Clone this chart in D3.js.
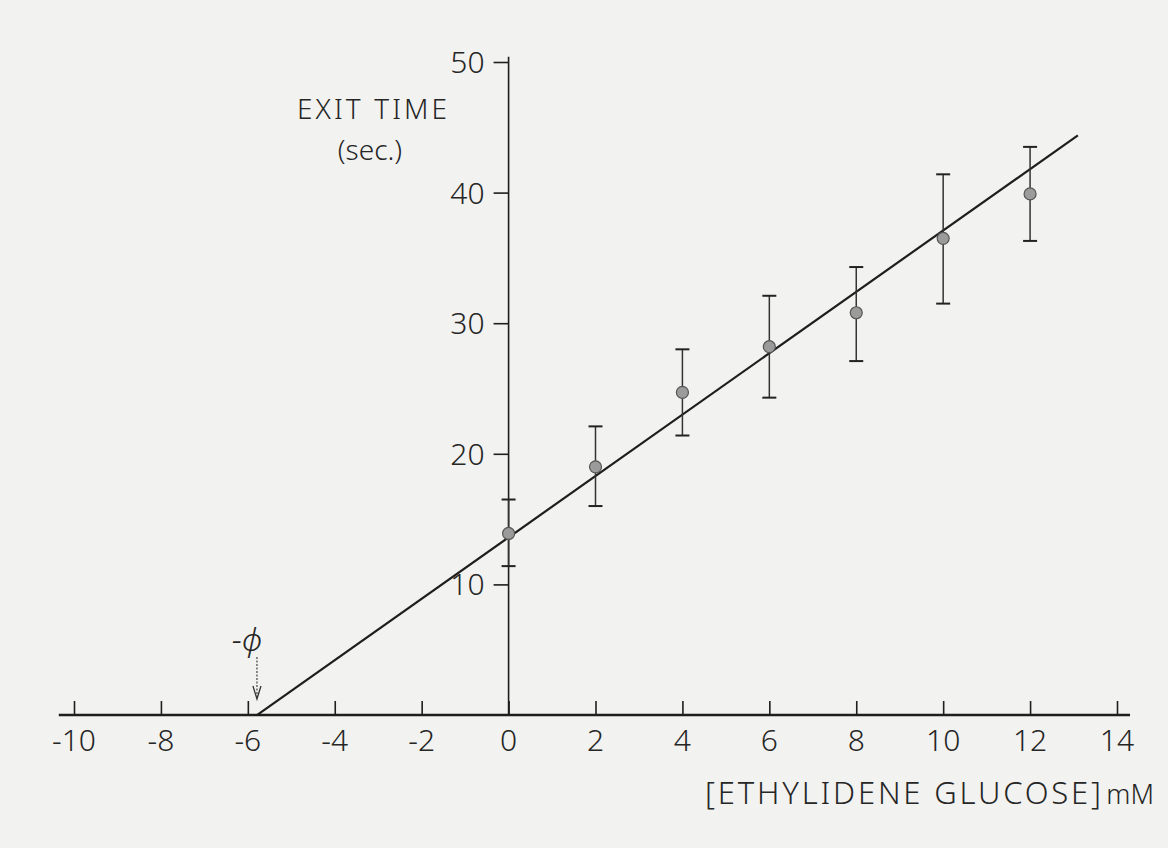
<!DOCTYPE html>
<html>
<head>
<meta charset="utf-8">
<script src="https://cdn.jsdelivr.net/npm/d3@7/dist/d3.min.js"></script>
<style>
  html, body { margin: 0; padding: 0; background: #f2f2f0; }
  svg { display: block; }
  text { font-family: "Noto Sans", "DejaVu Sans", sans-serif; font-weight: 300; fill: #262626; }
</style>
</head>
<body>
<svg id="chart" width="1168" height="848"></svg>
<script>
// Ethylidene glucose concentration (mM)
const concentration = [0, 2, 4, 6, 8, 10, 12];
// Mean exit time (sec.)
const exitTime = [13.9, 19.0, 24.7, 28.2, 30.8, 36.5, 39.9];
// Error bar limits (sec.)
const errLow  = [11.4, 16.0, 21.4, 24.3, 27.1, 31.5, 36.3];
const errHigh = [16.5, 22.1, 28.0, 32.1, 34.3, 41.4, 43.5];

// Axis ticks
const xTicks = [-10, -8, -6, -4, -2, 0, 2, 4, 6, 8, 10, 12, 14];
const yTicks = [10, 20, 30, 40, 50];

// Fitted straight line: exit time = slope * conc + intercept, drawn from -phi
const fitSlope = 2.35;
const fitIntercept = 13.6;
const fitRange = [-5.79, 13.1];
const phiValue = -5.79;

const svg = d3.select("#chart");

const x = d3.scaleLinear().domain([-10, 14]).range([74, 1117]);
const y = d3.scaleLinear().domain([0, 50]).range([715, 62]);

// paper tint
svg.append("rect").attr("width", 1168).attr("height", 848).attr("fill", "#f2f2f0");

const ink = "#1e1e1e";

// x axis: ticks point upward, line runs a little past the end ticks
const xAxis = svg.append("g").attr("transform", `translate(0,${y(0)})`)
  .call(d3.axisTop(x).tickValues(xTicks).tickSize(14).tickSizeOuter(0).tickFormat(() => ""));
xAxis.select(".domain").remove();
xAxis.selectAll(".tick line").attr("stroke", ink).attr("stroke-width", 1.6);
svg.append("line")
  .attr("x1", x(-10.35)).attr("x2", x(14.3))
  .attr("y1", y(0)).attr("y2", y(0))
  .attr("stroke", ink).attr("stroke-width", 2.4);

svg.append("g").selectAll("text").data(xTicks).join("text")
  .attr("x", d => x(d))
  .attr("y", y(0) + 36)
  .attr("text-anchor", "middle")
  .attr("font-size", 30)
  .text(d => d < 0 ? "-" + Math.abs(d) : d);

// y axis at zero concentration
const yAxis = svg.append("g").attr("transform", `translate(${x(0)},0)`)
  .call(d3.axisLeft(y).tickValues(yTicks).tickSize(15).tickSizeOuter(0).tickFormat(() => ""));
yAxis.select(".domain").remove();
yAxis.selectAll(".tick line").attr("stroke", ink).attr("stroke-width", 1.6);
svg.append("line")
  .attr("x1", x(0)).attr("x2", x(0))
  .attr("y1", y(0)).attr("y2", y(50.4))
  .attr("stroke", ink).attr("stroke-width", 1.6);

svg.append("g").selectAll("text").data(yTicks).join("text")
  .attr("x", x(0) - 24)
  .attr("y", d => y(d) + 11)
  .attr("text-anchor", "end")
  .attr("font-size", 30)
  .text(d => d);

// axis titles
svg.append("text").attr("x", 297).attr("y", 119)
  .attr("font-size", 28).attr("textLength", 150).attr("lengthAdjust", "spacing").text("EXIT TIME");
svg.append("text").attr("x", 370).attr("y", 160).attr("text-anchor", "middle")
  .attr("font-size", 28).text("(sec.)");

svg.append("text").attr("x", 705).attr("y", 804)
  .attr("font-size", 31).attr("textLength", 396).attr("lengthAdjust", "spacing")
  .text("[ETHYLIDENE  GLUCOSE]");
svg.append("text").attr("x", 1154).attr("y", 804).attr("text-anchor", "end")
  .attr("font-size", 27).text("mM");

// fitted line
svg.append("line")
  .attr("x1", x(fitRange[0])).attr("y1", y(fitSlope * fitRange[0] + fitIntercept))
  .attr("x2", x(fitRange[1])).attr("y2", y(fitSlope * fitRange[1] + fitIntercept))
  .attr("stroke", ink).attr("stroke-width", 2.2);

// -phi marker with arrow to the intercept
svg.append("text").attr("x", x(phiValue) - 10).attr("y", 651).attr("text-anchor", "middle")
  .attr("font-size", 32).attr("font-style", "italic").text("-\u03d5");
svg.append("line")
  .attr("x1", x(phiValue)).attr("x2", x(phiValue))
  .attr("y1", 657).attr("y2", 697)
  .attr("stroke", "#444").attr("stroke-width", 1.2).attr("stroke-dasharray", "2,1.5");
svg.append("path")
  .attr("d", `M${x(phiValue) - 4},${686} L${x(phiValue)},${699} L${x(phiValue) + 4},${686}`)
  .attr("fill", "none").attr("stroke", "#333").attr("stroke-width", 1.3);

// error bars
const bars = svg.append("g");
concentration.forEach((c, i) => {
  const cx = x(c);
  bars.append("line").attr("x1", cx).attr("x2", cx)
    .attr("y1", y(errLow[i])).attr("y2", y(errHigh[i]))
    .attr("stroke", "#333").attr("stroke-width", 1.5);
  [errLow[i], errHigh[i]].forEach(v => {
    bars.append("line").attr("x1", cx - 7).attr("x2", cx + 7)
      .attr("y1", y(v)).attr("y2", y(v))
      .attr("stroke", "#222").attr("stroke-width", 2);
  });
});

// mean points
svg.append("g").selectAll("circle").data(concentration).join("circle")
  .attr("cx", d => x(d))
  .attr("cy", (d, i) => y(exitTime[i]))
  .attr("r", 6)
  .attr("fill", "#9b9b9b")
  .attr("stroke", "#555")
  .attr("stroke-width", 1.2);
</script>
</body>
</html>
